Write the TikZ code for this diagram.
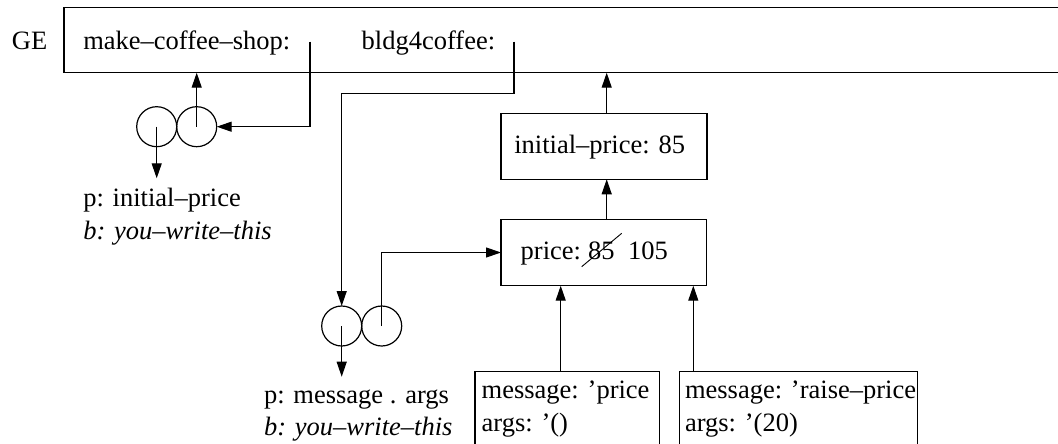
\documentclass[tikz,border=0pt]{standalone}
\usepackage{fontspec}
\setmainfont{Liberation Serif}
\usetikzlibrary{arrows.meta,calc}
\begin{document}
\begin{tikzpicture}[x=1pt,y=-1pt,
  every node/.style={inner sep=0pt,outer sep=0pt},
  rbox/.style={draw,line width=1.2pt,rectangle,anchor=north west},
  txt/.style={font=\fontsize{26.5}{33}\selectfont,anchor=base west},
  itxt/.style={anchor=base west,font=\fontsize{26.5}{33}\selectfont\itshape},
  ring/.style={draw,circle,line width=1.2pt,minimum size=40pt},
  conn/.style={line width=1.2pt},
  arr/.style={conn,-{Triangle[length=15pt,width=10pt]}}]
\useasboundingbox (0,0) rectangle (1058,444);
\clip (0,0) rectangle (1058,444);

% global environment
\node[txt] (gelbl) at (12,49.5) {GE};
\node[rbox,minimum width=1040pt,minimum height=65.4pt] (ge) at (64,7.3) {};
\node[txt] (mcs) at (83.3,49.5) {make–coffee–shop:};
\node[txt] (b4c) at (361.7,49.5) {bldg4coffee:};
\coordinate (mcsv) at (310,41.7);
\coordinate (b4cv) at (514,41.7);
\coordinate (b4cbend) at (514,93.5);

% procedure circles
\node[ring] (c1l) at (156.7,126.7) {};
\node[ring] (c1r) at (196.7,126.7) {};
\node[ring] (c2l) at (341.7,326) {};
\node[ring] (c2r) at (381.7,326) {};
\coordinate (c1ldown) at (156.7,178.3);
\coordinate (c2ldown) at (341.7,376.7);

\node[txt] (p1) at (83.3,206) {p: initial–price};
\node[itxt] (b1) at (83.3,239) {b: you–write–this};
\node[txt] (p2) at (264,403) {p: message . args};
\node[itxt] (b2) at (264,435.5) {b: you–write–this};

% frames
\node[rbox,minimum width=206pt,minimum height=66pt] (init) at (501,113.3) {};
\node[txt] (inittxt) at (514.3,153.3) {initial–price: 85};
\node[rbox,minimum width=205.7pt,minimum height=66.4pt] (price) at (501,219.3) {};
\node[txt] (pricelbl) at (520.7,259.3) {price:};
\node[txt] (p85) at (588,259.3) {85};
\node[txt] (p105) at (628,259.3) {105};
\draw[line width=0.9pt] ($(p85.base west)+(-6.3,7.4)$) -- ($(p85.base east)+(7.2,-26)$);

\node[rbox,minimum width=184.3pt,minimum height=100pt] (m1) at (475,371.7) {};
\node[txt] (m1a) at (481.7,398.3) {message: ’price};
\node[txt] (m1b) at (481.7,431.3) {args: ’()};
\node[rbox,minimum width=238.2pt,minimum height=100pt] (m2) at (679.5,371.7) {};
\node[txt] (m2a) at (685,398.3) {message: ’raise–price};
\node[txt] (m2b) at (685,431.3) {args: ’(20)};

% connectors
\coordinate (ax) at (606.7,0);
\coordinate (a1) at (560.7,0);
\coordinate (a2) at (693.3,0);
\draw[arr] (mcsv) |- (c1r.east);
\draw[arr] (c1r.center) -- (c1r.center |- ge.south);
\draw[arr] (c1l.center) -- (c1ldown);
\draw[arr] (b4cv) -- (b4cbend) -| (c2l.north);
\draw[arr] (c2r.center) |- (price.west);
\draw[arr] (c2l.center) -- (c2ldown);
\draw[arr] (init.north -| ax) -- (ge.south -| ax);
\draw[arr] (price.north -| ax) -- (init.south -| ax);
\draw[arr] (m1.north -| a1) -- (price.south -| a1);
\draw[arr] (m2.north -| a2) -- (price.south -| a2);
\end{tikzpicture}
\end{document}
